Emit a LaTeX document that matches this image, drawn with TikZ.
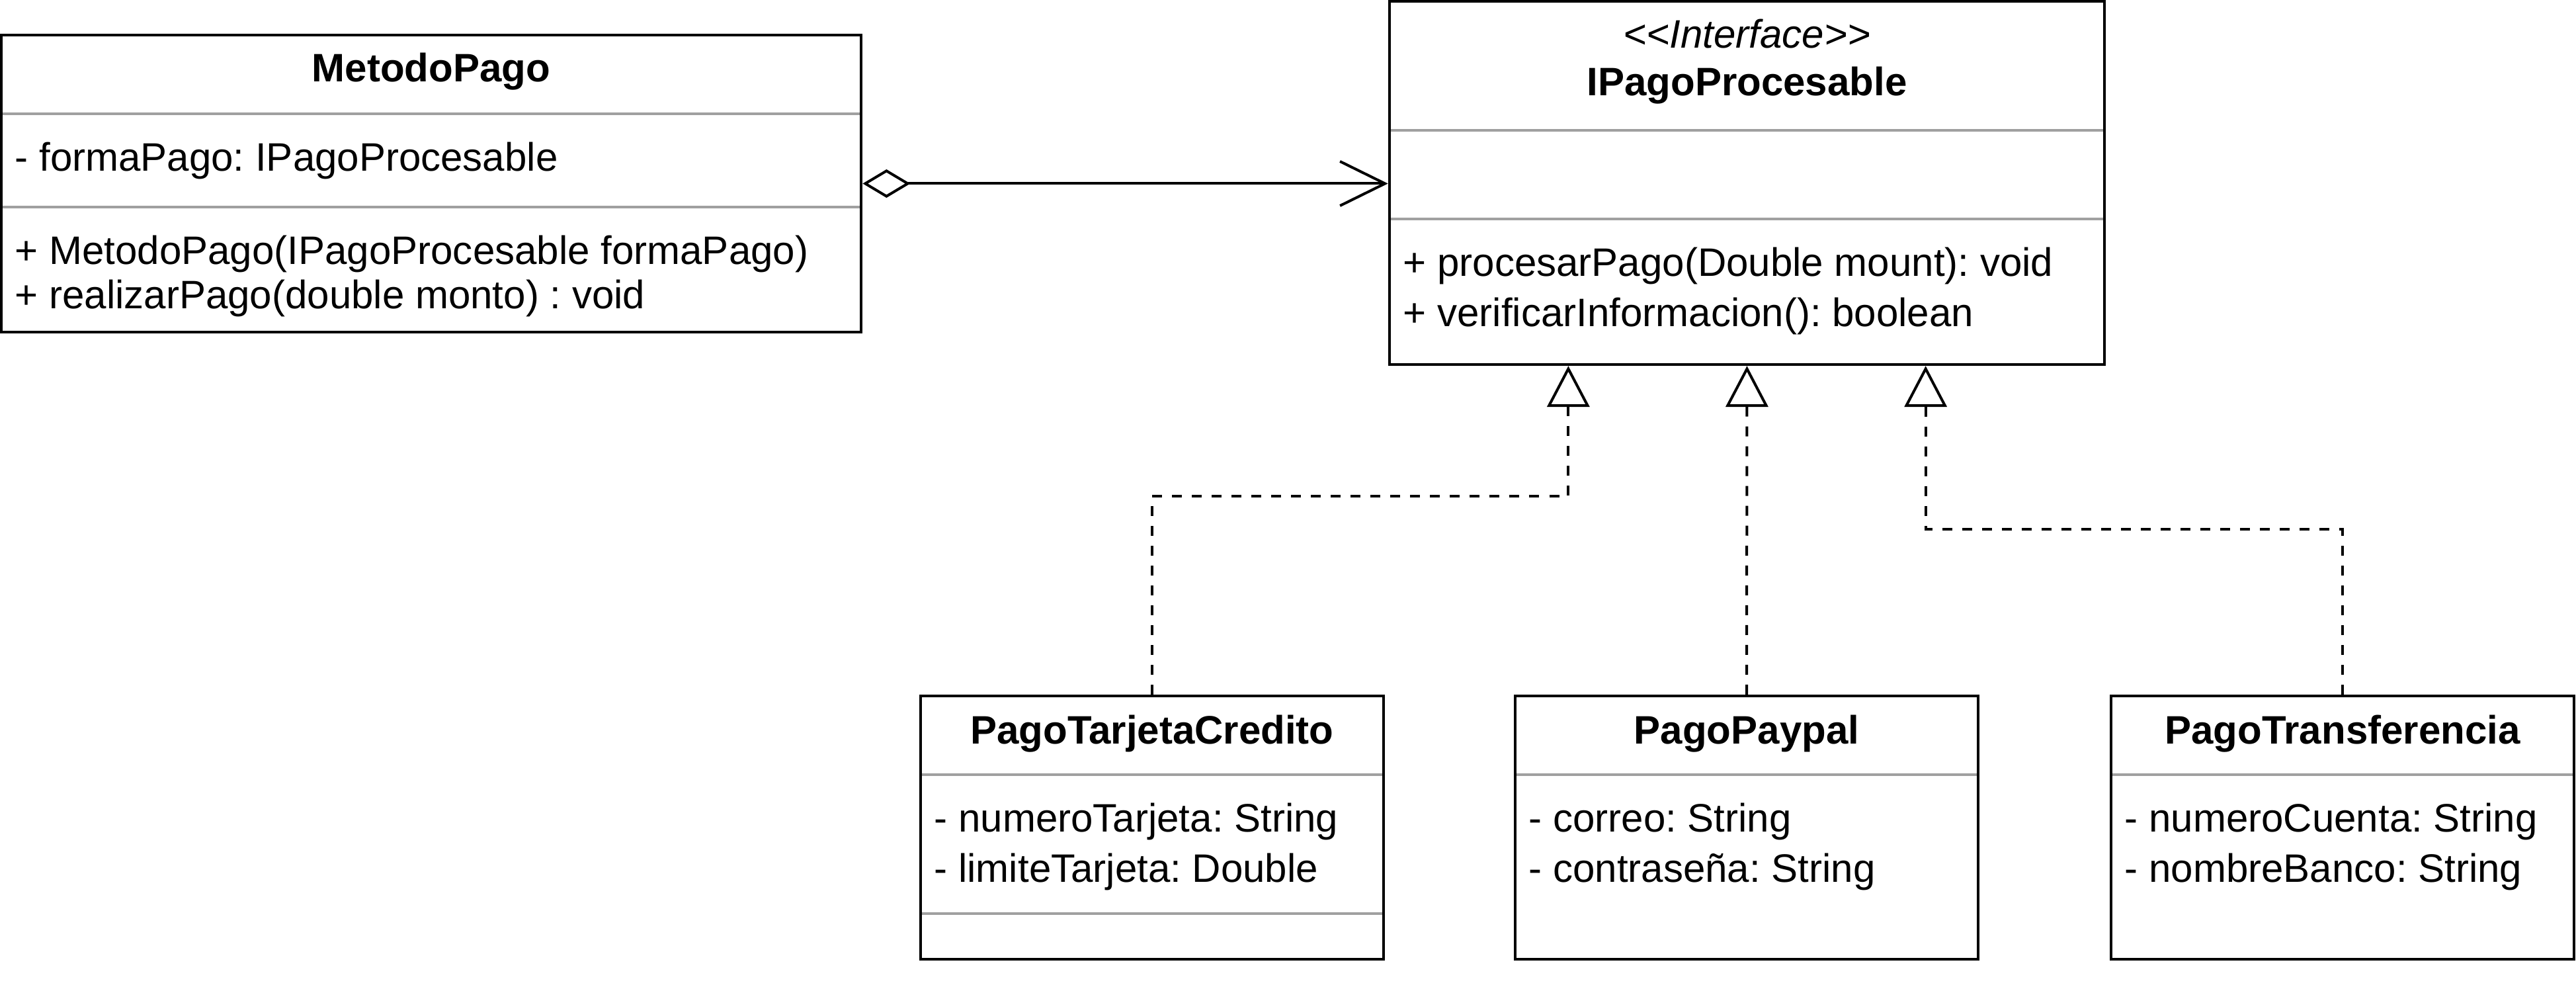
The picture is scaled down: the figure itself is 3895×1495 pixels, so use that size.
\documentclass[tikz,border=0pt]{standalone}
\usepackage{fontspec}
\setmainfont{Liberation Sans}
\usetikzlibrary{arrows.meta}
\definecolor{sepgray}{HTML}{A0A0A0}
\frenchspacing
\begin{document}
\begin{tikzpicture}[x=0.01cm,y=-0.01cm,font=\fontsize{17.07}{20}\selectfont,
cls/.style={draw,rectangle,line width=0.04cm,inner sep=0pt},
sep/.style={draw=sepgray,line width=0.04cm},
head/.style={anchor=base,inner sep=0pt,font=\fontsize{17.07}{20}\selectfont\bfseries},
txt/.style={anchor=base west,inner sep=0pt},
real/.style={line width=0.04cm,dash pattern=on 0.15cm off 0.15cm,-{Triangle[open,length=0.62cm,width=0.64cm]}},
aggr/.style={line width=0.04cm,{Diamond[open,length=0.72cm,width=0.43cm]}-{Straight Barb[length=0.68cm,width=0.67cm]}}]
\useasboundingbox (0,0) rectangle (3895,1495);
\node[cls,minimum width=13cm,minimum height=4.49cm] (metodo) at (652,277.5) {};
\node[cls,minimum width=10.81cm,minimum height=5.49cm] (iproc) at (2641.5,276.5) {};
\node[cls,minimum width=7cm,minimum height=3.98cm] (tarjeta) at (1742,1251) {};
\node[cls,minimum width=7cm,minimum height=3.98cm] (paypal) at (2641,1251) {};
\node[cls,minimum width=7cm,minimum height=3.98cm] (transf) at (3542,1251) {};
\draw[sep] (4,172)--(1300,172);\draw[sep] (4,313)--(1300,313);
\draw[sep] (2103,197)--(3180,197);\draw[sep] (2103,331)--(3180,331);
\draw[sep] (1394,1171)--(2090,1171);\draw[sep] (1394,1381)--(2090,1381);
\draw[sep] (2293,1171)--(2989,1171);\draw[sep] (3194,1171)--(3890,1171);
\node[head] (metodoT) at (652,124) {MetodoPago};
\node[txt] (metodoA1) at (22,259) {- formaPago: IPagoProcesable};
\node[txt] (metodoM1) at (22,400) {+ MetodoPago(IPagoProcesable formaPago)};
\node[txt] (metodoM2) at (22,467) {+ realizarPago(double monto) : void};
\node[anchor=base,inner sep=0pt] (iprocS) at (2641.5,73) {\textit{<\kern0pt<Interface>\kern0pt>}};
\node[head] (iprocT) at (2641.5,145) {IPagoProcesable};
\node[txt] (iprocM1) at (2121,418) {+ procesarPago(Double mount): void};
\node[txt] (iprocM2) at (2121,494) {+ verificarInformacion(): boolean};
\node[head] (tarjetaT) at (1742,1125) {PagoTarjetaCredito};
\node[txt] (tarjetaA1) at (1412,1258) {- numeroTarjeta: String};
\node[txt] (tarjetaA2) at (1412,1334) {- limiteTarjeta: Double};
\node[head] (paypalT) at (2641,1125) {PagoPaypal};
\node[txt] (paypalA1) at (2311,1258) {- correo: String};
\node[txt] (paypalA2) at (2311,1334) {- contraseña: String};
\node[head] (transfT) at (3542,1125) {PagoTransferencia};
\node[txt] (transfA1) at (3212,1258) {- numeroCuenta: String};
\node[txt] (transfA2) at (3212,1334) {- nombreBanco: String};
\coordinate (in1) at ([xshift=-2.7cm]iproc.south);\coordinate (in2) at (iproc.south);\coordinate (in3) at ([xshift=2.7cm]iproc.south);
\draw[aggr] (metodo.east)--(metodo.east-|iproc.west);
\draw[real] (tarjeta.north)--++(0,-300)-|(in1);
\draw[real] (paypal.north)--(in2);
\draw[real] (transf.north)--++(0,-250)-|(in3);
\end{tikzpicture}
\end{document}
